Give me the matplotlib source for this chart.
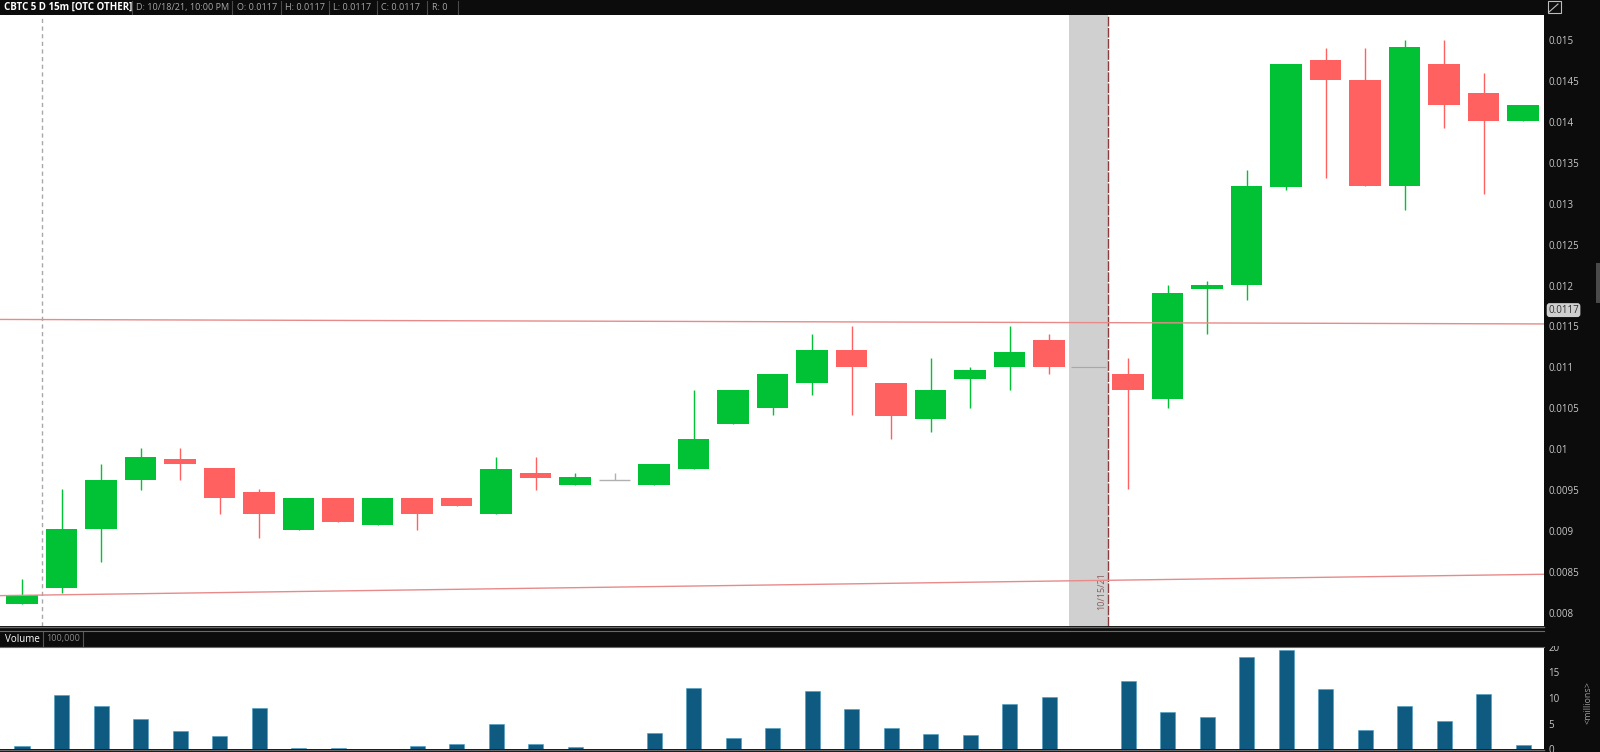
import numpy as np
import matplotlib.pyplot as plt
from matplotlib.patches import Rectangle
from matplotlib.lines import Line2D
import matplotlib.transforms as mtransforms

plt.rcParams['font.family'] = ['Open Sans', 'DejaVu Sans']

# 15m bars, slot 27 is the session gap (shaded)
opens = [0.00811, 0.00831, 0.00902, 0.00962, 0.00988, 0.00977, 0.00948, 0.00901, 0.00941, 0.00908,
         0.00941, 0.00941, 0.00921, 0.00971, 0.00956, 0.00962, 0.00956, 0.00976, 0.01031, 0.01051,
         0.01081, 0.01121, 0.01081, 0.01037, 0.01086, 0.01100, 0.01134, np.nan, 0.01092, 0.01061,
         0.01196, 0.01201, 0.01320, 0.01476, 0.01451, 0.01322, 0.01471, 0.01435, 0.01401]
highs = [0.00842, 0.00952, 0.00982, 0.01001, 0.01001, 0.00977, 0.00951, 0.00941, 0.00941, 0.00941,
         0.00941, 0.00941, 0.00991, 0.00991, 0.00971, 0.00971, 0.00982, 0.01072, 0.01072, 0.01092,
         0.01141, 0.01151, 0.01081, 0.01111, 0.01101, 0.01151, 0.01141, np.nan, 0.01111, 0.01201,
         0.01206, 0.01341, 0.01471, 0.01490, 0.01490, 0.01500, 0.01500, 0.01460, 0.01421]
lows = [0.00811, 0.00825, 0.00862, 0.00950, 0.00962, 0.00921, 0.00891, 0.00901, 0.00911, 0.00908,
        0.00901, 0.00931, 0.00921, 0.00950, 0.00956, 0.00962, 0.00956, 0.00976, 0.01031, 0.01042,
        0.01066, 0.01042, 0.01012, 0.01021, 0.01051, 0.01072, 0.01092, np.nan, 0.00951, 0.01051,
        0.01141, 0.01182, 0.01317, 0.01331, 0.01322, 0.01292, 0.01392, 0.01312, 0.01401]
closes = [0.00822, 0.00902, 0.00962, 0.00991, 0.00982, 0.00941, 0.00921, 0.00941, 0.00911, 0.00941,
          0.00921, 0.00931, 0.00976, 0.00965, 0.00966, 0.00962, 0.00982, 0.01012, 0.01072, 0.01092,
          0.01121, 0.01100, 0.01041, 0.01072, 0.01097, 0.01119, 0.01100, np.nan, 0.01072, 0.01191,
          0.01201, 0.01322, 0.01471, 0.01451, 0.01322, 0.01491, 0.01421, 0.01401, 0.01421]
volume = [0.6, 10.6, 8.4, 5.9, 3.5, 2.5, 8.0, 0.25, 0.25, 0.0,
          0.6, 1.0, 4.9, 1.0, 0.4, 0.0, 3.1, 12.0, 2.2, 4.2,
          11.4, 7.9, 4.2, 2.9, 2.7, 8.9, 10.2, np.nan, 13.4, 7.3,
          6.2, 18.0, 19.4, 11.7, 3.7, 8.5, 5.4, 10.8, 0.7]

gap_slot = 27
session_break = 0.5
gap_date = "10/15/21"
last_price = 0.0117

# drawn trend lines (price at left / right edge of chart)
upper_line = [0.011586, 0.011531]
lower_line = [0.008212, 0.008473]

price_ticks = [0.008, 0.0085, 0.009, 0.0095, 0.01, 0.0105, 0.011, 0.0115, 0.012,
               0.0125, 0.013, 0.0135, 0.014, 0.0145, 0.015]
vol_ticks = [0, 5, 10, 15, 20]

header = ["CBTC 5 D 15m [OTC OTHER]", "D: 10/18/21, 10:00 PM", "O: 0.0117",
          "H: 0.0117", "L: 0.0117", "C: 0.0117", "R: 0"]

GREEN = '#00c234'
RED = '#ff6060'
BG = '#0c0c0c'
W, H = 1600, 752

def fx(px):
    return px / W

def fy(py):
    return 1 - py / H

fig = plt.figure(figsize=(16, 7.52), dpi=100, facecolor=BG)
ax = fig.add_axes([0, fy(626), fx(1544), (626 - 15) / H])
axv = fig.add_axes([0, fy(749), fx(1544), (749 - 647) / H])

o = np.array(opens); h = np.array(highs); l = np.array(lows); c = np.array(closes)
x = np.arange(len(o))
ok = ~np.isnan(o)
cols = np.where(c > o, GREEN, np.where(c < o, RED, '#b0b0b0'))

xlim = (-0.557, 38.53)
ax.set_xlim(*xlim)
ax.set_ylim(0.007841, 0.015305)

# gap shading + session lines
ax.axvspan(gap_slot - 0.5, gap_slot + 0.5, color='#d0d0d0', lw=0, zorder=0)
ax.axvline(gap_slot + 0.5, color='#8a3c3c', lw=1, ls=(0, (7, 1)), zorder=1)
ax.axvline(session_break, color='#a8a8a8', lw=1, ls=(0, (3, 2.5)), zorder=1)
ax.hlines(c[gap_slot - 1], gap_slot - 0.45, gap_slot + 0.45, color='#a8a8a8', lw=0.8, zorder=1)
ax.text(gap_slot + 0.33, 0.026, gap_date, rotation=90, ha='center', va='bottom',
        fontsize=6.5, color='#8a5a5a',
        transform=mtransforms.blended_transform_factory(ax.transData, ax.transAxes))

# candles
ax.vlines(x[ok], l[ok], h[ok], colors=cols[ok], lw=1, zorder=2)
body = np.abs(c - o)
ax.bar(x[ok], body[ok], bottom=np.minimum(o, c)[ok], width=0.8, color=cols[ok], lw=0, zorder=3)
flat = ok & (c == o)
ax.hlines(c[flat], x[flat] - 0.4, x[flat] + 0.4, colors='#b0b0b0', lw=1, zorder=3)

# trend lines
ax.plot(xlim, upper_line, color='#e88a8a', lw=1, zorder=4)
ax.plot(xlim, lower_line, color='#e88a8a', lw=1, zorder=4)

ax.set_xticks([])
ax.yaxis.tick_right()
ax.set_yticks(price_ticks)
ax.set_yticklabels([f'{t:g}' for t in price_ticks])
ax.tick_params(axis='y', length=0, pad=3, labelsize=7, labelcolor='#c8c8c8')
for s in ax.spines.values():
    s.set_visible(False)

ax.annotate(f'{last_price:g}', xy=(1, last_price), xycoords=('axes fraction', 'data'),
            xytext=(3, 0), textcoords='offset points', ha='left', va='center',
            fontsize=7, color='#303030',
            bbox=dict(boxstyle='round,pad=0.15,rounding_size=0.3', fc='#cfcfcf', ec='none'))

# volume
axv.bar(x, volume, width=0.38, color='#0e5a80', edgecolor='#4a9cc2', lw=0.4)
axv.set_xlim(*xlim)
axv.set_ylim(0, 20)
axv.set_xticks([])
axv.yaxis.tick_right()
axv.set_yticks(vol_ticks)
axv.set_yticklabels([str(v) for v in vol_ticks])
axv.tick_params(axis='y', length=0, pad=3, labelsize=7, labelcolor='#c8c8c8')
for s in axv.spines.values():
    s.set_visible(False)
fig.text(fx(1588), fy(703), '<millions>', rotation=90, ha='center', va='center',
         fontsize=6.5, color='#9a9a9a')

# frame pieces
fig.add_artist(Rectangle((fx(1544), fy(645.5)), fx(56), (645.5 - 627) / H,
                         transform=fig.transFigure, fc=BG, ec='none', zorder=10))
fig.add_artist(Line2D([0, fx(1544)], [fy(626.5)] * 2, color='#6a6a6a', lw=1, zorder=11))
fig.add_artist(Line2D([0, fx(1544)], [fy(631)] * 2, color='#6a6a6a', lw=0.8, zorder=11))
fig.add_artist(Line2D([0, fx(1544)], [fy(647)] * 2, color='#6a6a6a', lw=0.8, zorder=11))
fig.add_artist(Line2D([0, fx(1544)], [fy(749.5)] * 2, color='#6a6a6a', lw=1, zorder=11))
fig.text(fx(5), fy(639), 'Volume', ha='left', va='center', fontsize=7, color='white', zorder=12)
fig.add_artist(Line2D([fx(43)] * 2, [fy(632), fy(646)], color='#555555', lw=0.8, zorder=12))
fig.text(fx(46), fy(639), '100,000', ha='left', va='center', fontsize=6.5, color='#8a8a8a', zorder=12)
fig.add_artist(Line2D([fx(83)] * 2, [fy(632), fy(646)], color='#555555', lw=0.8, zorder=12))

# header bar
hx = [4, 136, 237, 285, 333, 381, 432]
seps = [132, 232, 281, 329, 377, 427, 458]
for i, (t, px) in enumerate(zip(header, hx)):
    fig.text(fx(px), fy(7.5), t, ha='left', va='center',
             fontsize=7 if i == 0 else 6.5,
             fontweight='bold' if i == 0 else 'normal',
             color='white' if i == 0 else '#a8a8a8', zorder=12)
for px in seps:
    fig.add_artist(Line2D([fx(px)] * 2, [fy(1), fy(14)], color='#4a4a4a', lw=0.8, zorder=12))

# small widgets on the price scale
fig.add_artist(Rectangle((fx(1548), fy(13)), fx(13), 12 / H, transform=fig.transFigure,
                         fc='none', ec='#bdbdbd', lw=0.8, zorder=12))
fig.add_artist(Line2D([fx(1549), fx(1558)], [fy(12), fy(4)], color='#bdbdbd', lw=0.8, zorder=12))
fig.add_artist(Rectangle((fx(1596), fy(303)), fx(4), 40 / H, transform=fig.transFigure,
                         fc='#4a4a4a', ec='none', zorder=12))

fig.savefig('out.png', dpi=100, facecolor=fig.get_facecolor())
